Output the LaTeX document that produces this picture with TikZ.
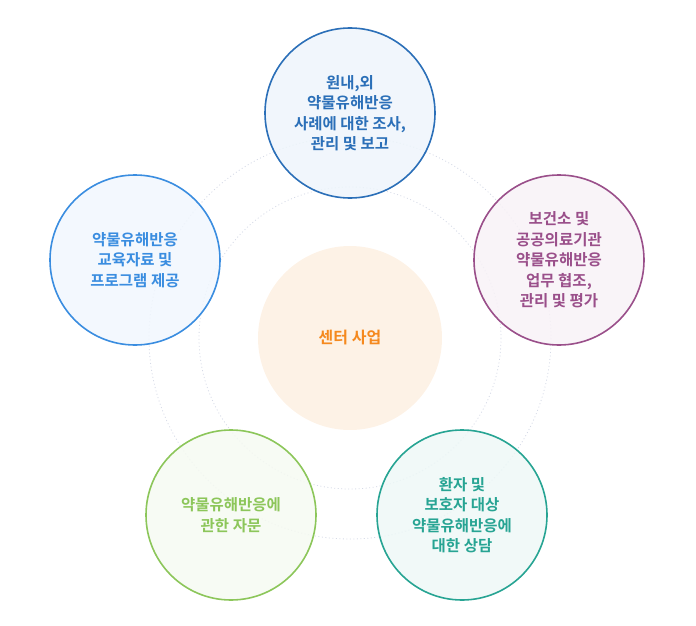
\documentclass[tikz,border=0pt]{standalone}
\usepackage{fontspec}
\newfontfamily\kr{Noto Sans CJK KR}[BoldFont={Noto Sans CJK KR Bold}]
\definecolor{ringc}{HTML}{D5DAE6}
\definecolor{topc}{HTML}{2B6FB8}\definecolor{topf}{HTML}{EEF5FB}
\definecolor{rtc}{HTML}{9A4F8A}\definecolor{rtf}{HTML}{F8F2F7}
\definecolor{brc}{HTML}{27A493}\definecolor{brf}{HTML}{EEF8F7}
\definecolor{blc}{HTML}{8CC65A}\definecolor{blf}{HTML}{F6FAF2}
\definecolor{lfc}{HTML}{3A8DE0}\definecolor{lff}{HTML}{F1F7FE}
\definecolor{cenc}{HTML}{F5891E}\definecolor{cenf}{HTML}{FDF2E6}
\tikzset{
  ring/.style={draw=ringc, line width=0.8pt, dash pattern=on 1pt off 2.5pt},
  topic/.style={circle, minimum size=170pt, inner sep=0pt, align=center, line width=1.6pt,
    fill opacity=0.85, text opacity=1,
    font=\kr\bfseries\fontsize{15.5}{20.5}\selectfont},
  hub/.style={circle, minimum size=184pt, inner sep=0pt, align=center, fill=cenf,
    text=cenc, font=\kr\bfseries\fontsize{16}{20}\selectfont}
}
\begin{document}
\begin{tikzpicture}[x=1pt,y=-1pt]
\useasboundingbox (0,0) rectangle (696,626);
\node[hub] (hub) at (350,338) {센터 사업};
\draw[ring] (hub.center) circle[radius=151];
\draw[ring] (hub.center) circle[radius=201];
\node[topic, draw=topc, fill=topf, text=topc] (t1) at (350,113) {원내,외\\약물유해반응\\사례에 대한 조사,\\관리 및 보고};
\node[topic, draw=rtc, fill=rtf, text=rtc] (t2) at (559,260) {보건소 및\\공공의료기관\\약물유해반응\\업무 협조,\\관리 및 평가};
\node[topic, draw=brc, fill=brf, text=brc] (t3) at (462,515) {환자 및\\보호자 대상\\약물유해반응에\\대한 상담};
\node[topic, draw=blc, fill=blf, text=blc] (t4) at (231,515) {약물유해반응에\\관한 자문};
\node[topic, draw=lfc, fill=lff, text=lfc] (t5) at (135,260) {약물유해반응\\교육자료 및\\프로그램 제공};
\end{tikzpicture}
\end{document}
